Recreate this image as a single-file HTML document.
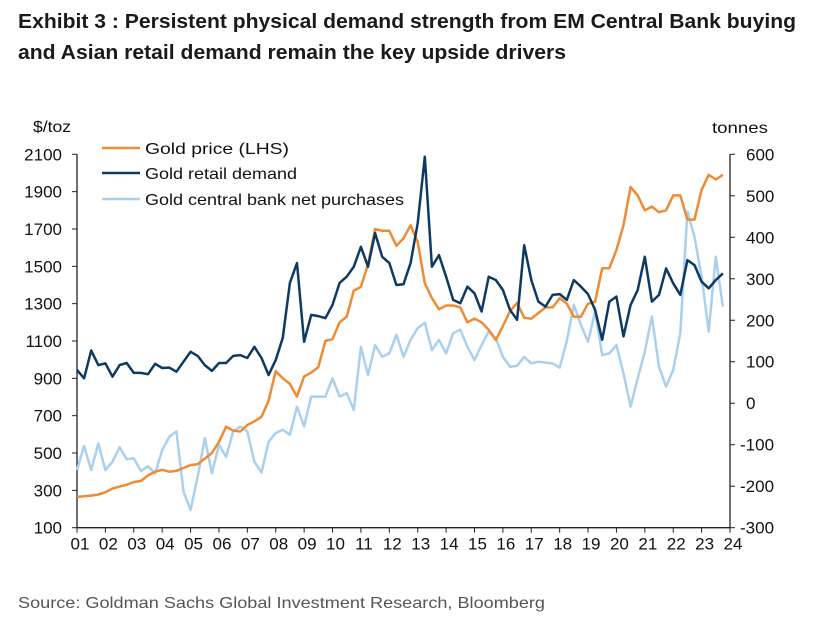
<!DOCTYPE html>
<html><head><meta charset="utf-8"><style>
body{margin:0;background:#fff}
svg{display:block;font-family:"Liberation Sans",Arial,sans-serif}
</style></head><body>
<svg id="chart" width="817" height="623" viewBox="0 0 817 623">
<text x="18" y="28" font-size="20" font-weight="bold" fill="#1a1a1a" textLength="778" lengthAdjust="spacingAndGlyphs">Exhibit 3 : Persistent physical demand strength from EM Central Bank buying</text>
<text x="18" y="59" font-size="20" font-weight="bold" fill="#1a1a1a" textLength="548" lengthAdjust="spacingAndGlyphs">and Asian retail demand remain the key upside drivers</text>
<text x="33" y="132" font-size="16" fill="#111" textLength="38" lengthAdjust="spacingAndGlyphs">$/toz</text>
<text x="712" y="133" font-size="16" fill="#111" textLength="56" lengthAdjust="spacingAndGlyphs">tonnes</text>
<g id="axes"></g>
<g id="series"></g>
<g>
<line x1="102" y1="148" x2="140" y2="148" stroke="#f08a33" stroke-width="2.5"/>
<text x="145" y="154" font-size="16" fill="#111" textLength="144" lengthAdjust="spacingAndGlyphs">Gold price (LHS)</text>
<line x1="102" y1="173" x2="140" y2="173" stroke="#0d3a63" stroke-width="2.5"/>
<text x="145" y="179" font-size="16" fill="#111" textLength="152" lengthAdjust="spacingAndGlyphs">Gold retail demand</text>
<line x1="102" y1="199" x2="140" y2="199" stroke="#a9d0ee" stroke-width="2.5"/>
<text x="145" y="205" font-size="16" fill="#111" textLength="259" lengthAdjust="spacingAndGlyphs">Gold central bank net purchases</text>
</g>
<text x="18" y="608" font-size="16" fill="#555" textLength="527" lengthAdjust="spacingAndGlyphs">Source: Goldman Sachs Global Investment Research, Bloomberg</text>
</svg>
<script>
const yearLabels=["01","02","03","04","05","06","07","08","09","10","11","12","13","14","15","16","17","18","19","20","21","22","23","24"];
const leftTicks=[100,300,500,700,900,1100,1300,1500,1700,1900,2100];
const rightTicks=[-300,-200,-100,0,100,200,300,400,500,600];
const goldPrice=[265,268,272,278,290,310,320,330,345,350,380,400,410,400,405,420,436,440,470,500,560,641,620,615,650,670,694,780,939,900,870,802,910,930,960,1100,1110,1200,1230,1370,1390,1510,1700,1690,1690,1610,1650,1720,1630,1410,1330,1270,1290,1290,1280,1200,1220,1200,1160,1105,1180,1260,1304,1224,1220,1250,1280,1280,1330,1300,1230,1230,1300,1310,1490,1490,1587,1720,1925,1880,1800,1820,1790,1800,1880,1880,1750,1750,1910,1990,1965,1990];
const retailDemand=[80,60,127,92,96,64,92,97,73,73,70,95,85,86,76,100,124,114,92,78,97,97,114,116,109,136,109,68,104,158,290,338,148,213,210,205,237,290,305,329,377,329,410,353,338,285,287,338,434,594,329,357,305,249,241,281,265,221,305,297,273,225,201,381,297,245,233,261,263,249,297,281,263,225,153,245,257,161,237,273,353,245,261,325,289,261,345,333,293,277,297,313];
const cbPurchases=[-161,-103,-161,-97,-161,-141,-106,-135,-133,-163,-152,-169,-113,-81,-68,-213,-257,-177,-84,-169,-100,-129,-68,-56,-68,-141,-167,-93,-72,-64,-76,-8,-56,16,16,16,60,16,24,-16,136,68,140,112,120,165,112,153,181,194,128,153,120,169,177,136,104,140,173,157,112,88,90,112,96,100,98,96,86,150,237,189,148,221,116,120,140,72,-8,60,124,209,88,40,80,169,462,401,305,173,353,233];

const X0=77,X1=730,YT=154.3,YB=527.7;
const yearW=(X1-X0)/23;
const xQ=i=>X0+i*yearW/4;
const yL=v=>YB-(v-100)/2000*(YB-YT);
const yR=v=>YB-(v+300)/900*(YB-YT);
const NS="http://www.w3.org/2000/svg";
function mk(tag,attrs,parent){const e=document.createElementNS(NS,tag);for(const k in attrs)e.setAttribute(k,attrs[k]);parent.appendChild(e);return e;}
const ax=document.getElementById('axes');
let e;
e=mk('line',{x1:X0,y1:YT,x2:X0,y2:YB,stroke:'#222','stroke-width':1.3},ax);


e=mk('line',{x1:X1,y1:YT,x2:X1,y2:YB,stroke:'#222','stroke-width':1.3},ax);


e=mk('line',{x1:X0,y1:YB,x2:X1,y2:YB,stroke:'#222','stroke-width':1.3},ax);


leftTicks.forEach(v=>{
  const y=yL(v);
  mk('line',{x1:X0-5,y1:y,x2:X0,y2:y,stroke:'#222'},ax);
  e=mk('text',{x:X0-15,y:y+6,'font-size':17,'text-anchor':'end',fill:'#111'},ax);
  e.textContent=v;
  
  
});
rightTicks.forEach(v=>{
  const y=yR(v);
  mk('line',{x1:X1,y1:y,x2:X1+5,y2:y,stroke:'#222'},ax);
  e=mk('text',{x:v<0?X1+10:X1+16,y:y+6,'font-size':17,fill:'#111'},ax);
  e.textContent=v;
  
  
});
yearLabels.forEach((lab,i)=>{
  const x=X0+i*yearW;
  mk('line',{x1:x,y1:YB,x2:x,y2:YB+5,stroke:'#222'},ax);
  e=mk('text',{x:x+3,y:YB+22,'font-size':17,'text-anchor':'middle',fill:'#111'},ax);
  e.textContent=lab;
  
  
});
const sg=document.getElementById('series');
function line(arr,yf,color,name){
  const d=arr.map((v,i)=>(i?'L':'M')+xQ(i).toFixed(1)+','+yf(v).toFixed(1)).join('');
  const p=mk('path',{d:d,fill:'none',stroke:color,'stroke-width':2.5,'stroke-linejoin':'round'},sg);
  
  
}
line(cbPurchases,yR,'#a9d0ee','cb-purchases-line');
line(goldPrice,yL,'#f08a33','gold-price-line');
line(retailDemand,yR,'#0d3a63','retail-demand-line');
</script>
</body></html>
